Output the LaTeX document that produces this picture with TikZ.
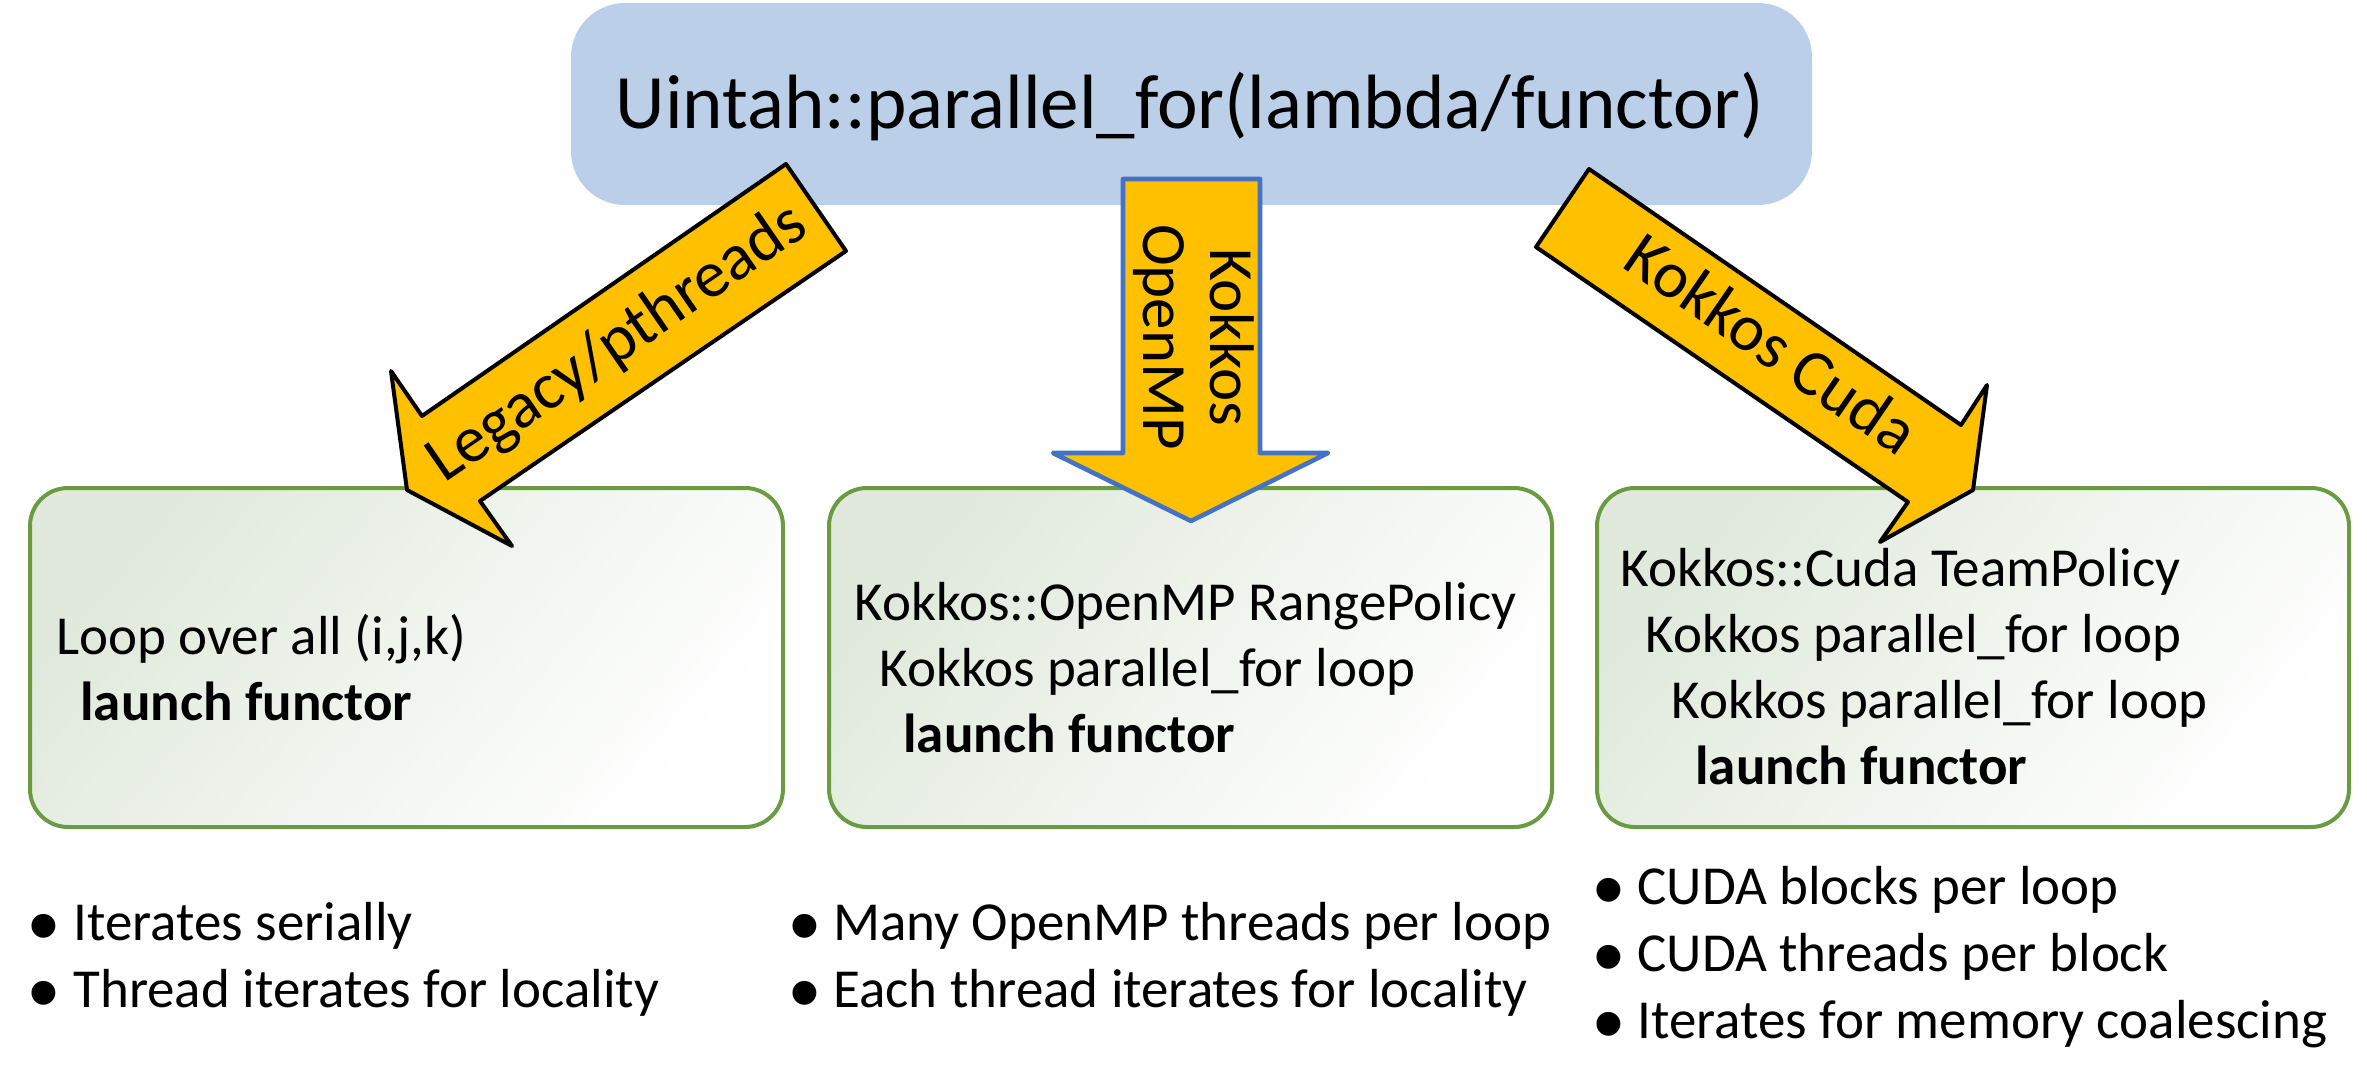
\documentclass[tikz,border=0pt]{standalone}
\usepackage{fontspec}
\setmainfont{Carlito}
\newfontfamily\bulfont{Liberation Sans}
\definecolor{topblue}{RGB}{188,207,232}
\definecolor{arrowgold}{RGB}{255,192,0}
\definecolor{boxgreen}{RGB}{106,155,66}
\definecolor{boxtint}{RGB}{224,233,220}
\definecolor{mpblue}{RGB}{68,114,196}
\newsavebox{\bulbox}
\newcommand{\bul}{\llap{\makebox[29pt][c]{\sbox\bulbox{\bulfont\fontsize{44}{44}\selectfont•}\raisebox{\dimexpr13pt-\ht\bulbox\relax}{\usebox\bulbox}}}}
\tikzset{
  topbox/.style={rounded corners=27pt, fill=topblue, draw=none,
    minimum width=620.5pt, minimum height=101pt, inner sep=0pt},
  lowbox/.style={rounded corners=19pt, draw=boxgreen, line width=2pt,
    top color=boxtint, middle color=white, bottom color=white, shading angle=50,
    minimum height=169.5pt, inner sep=0pt},
  goldarrow/.style={fill=arrowgold, draw=black, line width=2pt, line join=round},
  mparrow/.style={fill=arrowgold, draw=mpblue, line width=2.3pt, line join=round},
  arrowtext/.style={inner sep=0pt, font=\fontsize{31.5}{33.5}\selectfont},
  toptext/.style={inner sep=0pt, anchor=base, font=\fontsize{38.5}{46}\selectfont},
  boxtext/.style={inner sep=0pt, anchor=base west, font=\fontsize{27.5}{33}\selectfont},
}
\begin{document}
\begin{tikzpicture}[x=0.5pt,y=-0.5pt]
\useasboundingbox (0,0) rectangle (2367,1083);
% top box
\node[topbox] (top) at (1191.5,104) {};
\node[toptext] (toplbl) at (1190,128) {Uintah::parallel\_for(lambda/functor)};
% lower boxes
\node[lowbox, minimum width=376.5pt] (legbox) at (406.5,657.5) {};
\node[lowbox, minimum width=361.5pt] (ompbox) at (1190.5,657.5) {};
\node[lowbox, minimum width=376pt] (cudabox) at (1973,657.5) {};
% arrows
\draw[goldarrow] (786,164) -- (846,251) -- (480,501) -- (512,546) -- (407,490)
  -- (391,371) -- (422,416) -- cycle;
\draw[mparrow] (1123,179) -- (1260,179) -- (1260,453) -- (1328,453) -- (1191,521)
  -- (1053,453) -- (1123,453) -- cycle;
\draw[goldarrow] (1589,169) -- (1536,247) -- (1908,502) -- (1880,542) -- (1973,490)
  -- (1987,385) -- (1961,425) -- cycle;
\node[arrowtext, font=\fontsize{33}{35}\selectfont, rotate=34.5] (legtxt) at (618,344) {Legacy/pthreads};
\node[arrowtext, font=\fontsize{33}{35}\selectfont, rotate=-34.5] (cudatxt) at (1772,343) {Kokkos Cuda};
\node[arrowtext, rotate=-90, anchor=base] (kktxt) at (1210,337) {Kokkos};
\node[arrowtext, rotate=-90, anchor=base] (omptxt) at (1143,337) {OpenMP};
% box texts
\node[boxtext] (l1) at (56,654) {Loop over all (i,j,k)};
\node[boxtext] (l2) at (80,720) {\bfseries launch functor};
\node[boxtext] (m1) at (854,620) {Kokkos::OpenMP RangePolicy};
\node[boxtext] (m2) at (879,686) {Kokkos parallel\_for loop};
\node[boxtext] (m3) at (903,752) {\bfseries launch functor};
\node[boxtext] (r1) at (1620,586) {Kokkos::Cuda TeamPolicy};
\node[boxtext] (r2) at (1645,652) {Kokkos parallel\_for loop};
\node[boxtext] (r3) at (1671,718) {Kokkos parallel\_for loop};
\node[boxtext] (r4) at (1695,784) {\bfseries launch functor};
% bullets
\node[boxtext] (lb1) at (73,940) {\bul Iterates serially};
\node[boxtext] (lb2) at (73,1007) {\bul Thread iterates for locality};
\node[boxtext] (mb1) at (833,940) {\bul Many OpenMP threads per loop};
\node[boxtext] (mb2) at (833,1007) {\bul Each thread iterates for locality};
\node[boxtext] (rb1) at (1637,904) {\bul CUDA blocks per loop};
\node[boxtext] (rb2) at (1637,971) {\bul CUDA threads per block};
\node[boxtext] (rb3) at (1637,1038) {\bul Iterates for memory coalescing};
\end{tikzpicture}
\end{document}
